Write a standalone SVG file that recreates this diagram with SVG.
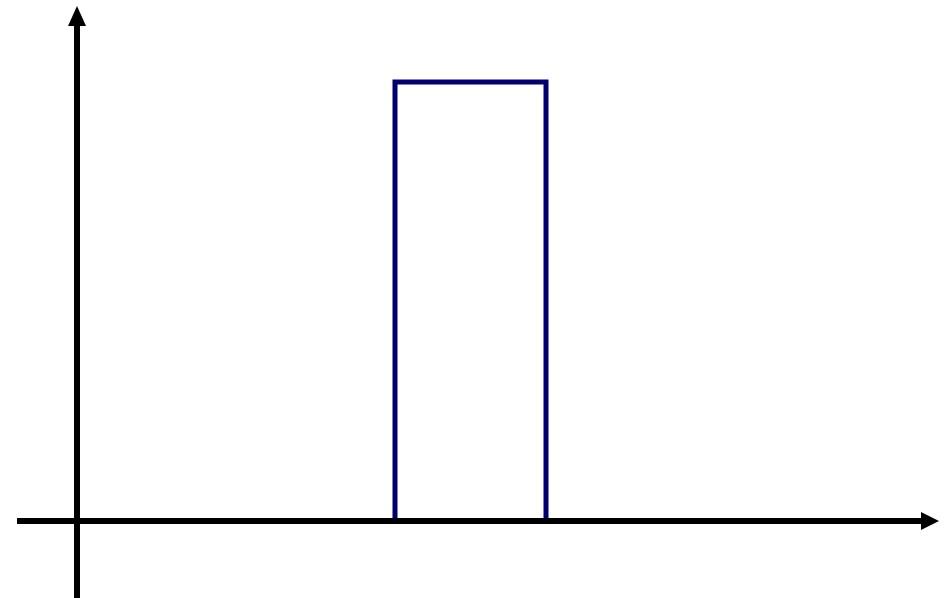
<svg xmlns="http://www.w3.org/2000/svg" width="944" height="598" viewBox="0 0 944 598">
<style>
.axis{stroke:#000;stroke-width:6;fill:none}
.head{fill:#000}
.box{stroke:#000070;stroke-width:5;fill:none}
</style>
<rect width="944" height="598" fill="#fff"/>
<g id="pulse">
<rect class="box" x="395" y="82" width="151" height="439"/>
</g>
<g id="connectors">
<line class="axis" x1="17" y1="521" x2="922" y2="521"/>
<polygon class="head" points="921,512 939,521 921,530"/>
<line class="axis" x1="77" y1="598" x2="77" y2="24"/>
<polygon class="head" points="68,26 77,6 86,26"/>
</g>
</svg>
